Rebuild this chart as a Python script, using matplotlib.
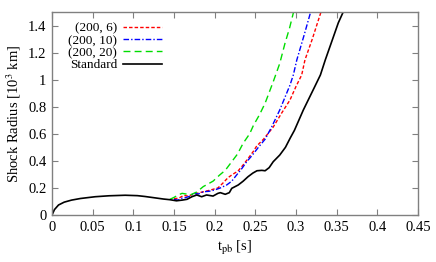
import numpy as np
import matplotlib
matplotlib.use('Agg')
import matplotlib.pyplot as plt
from matplotlib.ticker import FuncFormatter

plt.rcParams['font.family'] = ['Liberation Serif', 'DejaVu Serif']
plt.rcParams['mathtext.fontset'] = 'stix'

# Standard run
t_std = [0, 0.003, 0.008, 0.015, 0.024, 0.035, 0.053, 0.07, 0.09, 0.105, 0.114,
         0.125, 0.137, 0.145, 0.153, 0.16, 0.166, 0.172, 0.178, 0.184, 0.19, 0.198,
         0.204, 0.207, 0.213, 0.218, 0.221, 0.229, 0.235, 0.241, 0.247, 0.252,
         0.258, 0.262, 0.267, 0.272, 0.280, 0.287, 0.293, 0.298, 0.309, 0.323,
         0.330, 0.336, 0.345, 0.352, 0.358]
r_std = [0, 0.04, 0.074, 0.095, 0.11, 0.122, 0.135, 0.142, 0.146, 0.143, 0.137,
         0.128, 0.118, 0.113, 0.105, 0.11, 0.116, 0.135, 0.148, 0.135, 0.148, 0.14,
         0.16, 0.165, 0.153, 0.165, 0.197, 0.222, 0.25, 0.283, 0.31, 0.327,
         0.33, 0.327, 0.35, 0.394, 0.443, 0.5, 0.57, 0.625, 0.776, 0.948,
         1.035, 1.146, 1.3, 1.42, 1.5]

# (200, 6)
t_6 = [0.15, 0.156, 0.162, 0.167, 0.172, 0.178, 0.185, 0.192, 0.198, 0.204, 0.21,
       0.2164, 0.222, 0.2287, 0.235, 0.2414, 0.2475, 0.2517, 0.26, 0.272, 0.282,
       0.2926, 0.300, 0.307, 0.311, 0.32, 0.3307]
r_6 = [0.12, 0.125, 0.145, 0.14, 0.15, 0.16, 0.17, 0.18, 0.19, 0.2, 0.235,
       0.276, 0.3, 0.325, 0.37, 0.42, 0.47, 0.51, 0.56, 0.65, 0.75,
       0.85, 0.95, 1.035, 1.146, 1.3, 1.5]

# (200, 10)
t_10 = [0.15, 0.155, 0.16, 0.165, 0.17, 0.174, 0.18, 0.186, 0.193, 0.2, 0.207,
        0.2148, 0.221, 0.227, 0.233, 0.2394, 0.246, 0.2537, 0.262, 0.270, 0.280,
        0.2926, 0.2967, 0.301, 0.31, 0.318]
r_10 = [0.115, 0.11, 0.125, 0.13, 0.14, 0.16, 0.155, 0.172, 0.175, 0.185, 0.2,
        0.222, 0.25, 0.296, 0.34, 0.394, 0.44, 0.50, 0.56, 0.65, 0.776,
        0.96, 1.035, 1.146, 1.33, 1.5]

# (200, 20)
t_20 = [0.145, 0.15, 0.155, 0.16, 0.165, 0.17, 0.178, 0.186, 0.198, 0.206, 0.213,
        0.2205, 0.228, 0.235, 0.243, 0.2475, 0.255, 0.262, 0.272, 0.280, 0.2865,
        0.292, 0.297]
r_20 = [0.116, 0.13, 0.148, 0.16, 0.155, 0.148, 0.17, 0.21, 0.25, 0.295, 0.33,
        0.39, 0.45, 0.53, 0.6, 0.66, 0.74, 0.826, 0.985, 1.12, 1.27,
        1.38, 1.5]

fig = plt.figure(figsize=(4.36, 2.62), dpi=100)
ax = fig.add_axes([0.1193, 0.1794, 0.8394, 0.7746])

ax.plot(t_6, r_6, color='#ff0000', lw=1.0, dashes=(2.5, 1.5), label='(200, 6)')
ax.plot(t_10, r_10, color='#0000ff', lw=1.0, dashes=(4, 1.5, 1, 1.5), label='(200, 10)')
ax.plot(t_20, r_20, color='#00dd00', lw=1.0, dashes=(5, 3), label='(200, 20)')
ax.plot(t_std, r_std, color='black', lw=1.2, label='Standard')

ax.set_xlim(0, 0.45)
ax.set_ylim(0, 1.5)
ax.set_xticks(np.arange(0, 0.451, 0.05))
ax.set_yticks(np.arange(0, 1.41, 0.2))
ax.xaxis.set_major_formatter(FuncFormatter(lambda v, p: '%g' % round(v, 3)))
ax.yaxis.set_major_formatter(FuncFormatter(lambda v, p: '%g' % round(v, 3)))
ax.tick_params(direction='in', top=True, right=True, length=4, width=0.8,
               color='#808080', labelsize=10.5, pad=4)
for s in ax.spines.values():
    s.set_color('#808080')
    s.set_linewidth(1.0)

ax.set_xlabel(r't$_{\mathrm{pb}}$ [s]', fontsize=10.5, labelpad=4)
ax.set_ylabel(r'Shock Radius [10$^3$ km]', fontsize=10.5, labelpad=4)

leg = ax.legend(loc='upper left', markerfirst=False, frameon=False, fontsize=9.5,
                handlelength=3.0, handletextpad=0.4, labelspacing=0.0,
                borderaxespad=0.0, bbox_to_anchor=(0.03, 0.975))

fig.savefig('out.png', dpi=100)
